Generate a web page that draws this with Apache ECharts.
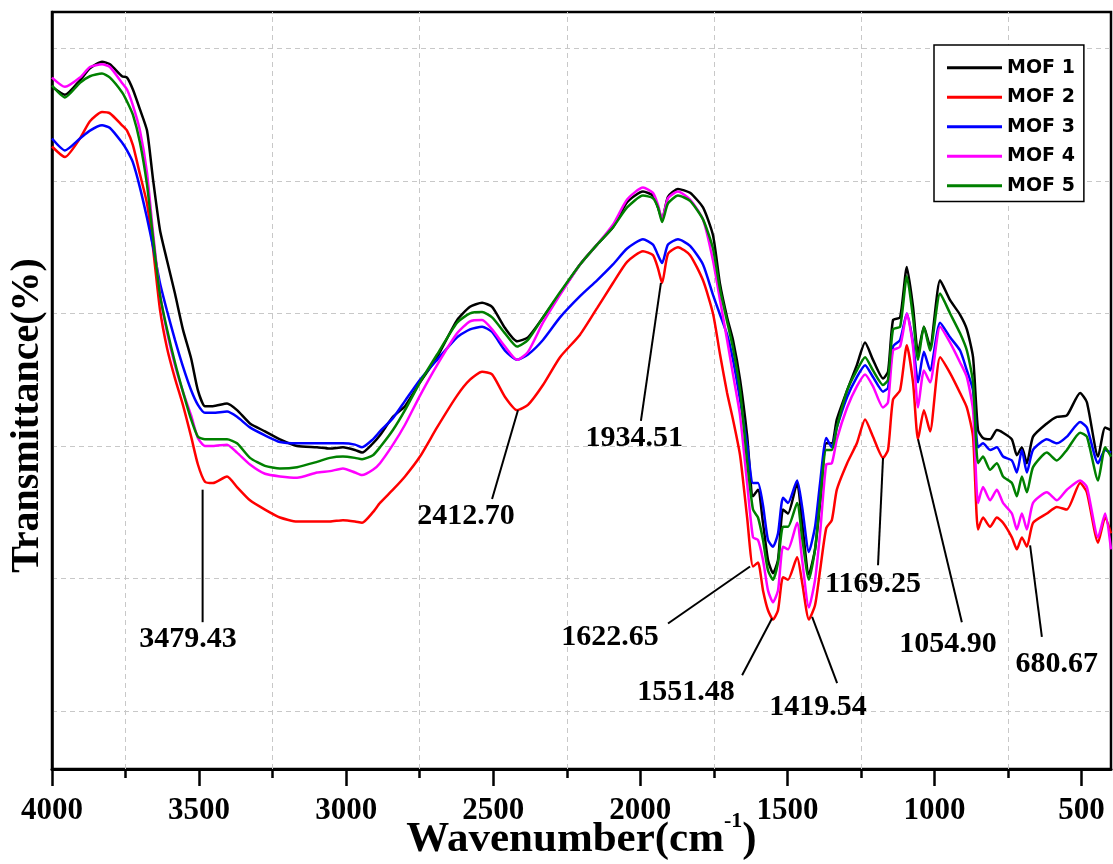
<!DOCTYPE html>
<html><head><meta charset="utf-8">
<script src="https://cdn.jsdelivr.net/npm/echarts@6/dist/echarts.min.js"></script>
<style>html,body{margin:0;padding:0;background:#fff}#c{width:1113px;height:864px}</style>
</head><body><div id="c"></div>
<script>
// Wavenumber (cm-1) sample positions shared by all spectra
const wavenumbers = [4000,3956,3905,3871,3830,3803,3762,3745,3725,3701,
 3677,3657,3633,3609,3582,3555,3527,3504,3480,3453,
 3405,3371,3327,3276,3225,3167,3099,3055,3011,2970,
 2946,2909,2885,2841,2800,2749,2691,2623,2579,2538,
 2504,2460,2419,2382,2331,2273,2205,2147,2093,2045,
 1991,1957,1940,1926,1906,1872,1831,1787,1753,1729,
 1705,1685,1661,1637,1617,1600,1583,1566,1549,1532,
 1515,1498,1467,1450,1427,1406,1389,1368,1349,1332,
 1297,1264,1236,1209,1175,1158,1141,1117,1094,1073,
 1056,1036,1015,981,947,913,890,869,852,835,
 811,788,767,737,720,703,686,665,618,584,
 550,505,482,444,420,400];

// Transmittance (arbitrary % units)
const mof1 = [57.1,56.5,57.6,58.5,59.0,58.8,57.9,57.8,56.9,55.4,
 53.8,50.2,46.3,44.0,41.5,38.8,36.6,34.2,33.0,33.0,
 33.2,32.7,31.7,31.1,30.5,30.0,29.9,29.8,29.9,29.7,
 29.5,30.2,30.8,32.2,33.0,34.8,36.7,39.5,40.5,40.8,
 40.5,38.9,37.9,38.2,39.7,41.5,43.7,45.2,46.5,48.4,
 49.2,48.9,48.0,47.1,48.8,49.4,49.1,48.0,45.9,42.2,
 39.7,38.0,35.0,30.8,26.2,26.7,24.2,21.4,20.4,21.4,
 25.2,24.9,27.2,24.2,20.3,22.2,25.7,30.2,30.2,32.0,
 34.2,36.1,37.8,36.5,35.1,35.6,39.5,39.7,43.5,40.5,
 37.0,39.0,37.5,42.5,41.0,39.9,38.8,36.7,31.2,30.6,
 30.5,31.2,31.0,30.5,29.3,29.9,28.7,30.7,31.7,32.2,
 32.3,34.0,33.3,29.2,31.4,31.2];
const mof2 = [52.6,51.8,53.2,54.5,55.2,55.1,54.2,53.8,52.7,50.5,
 48.3,45.0,40.3,37.4,35.1,33.1,30.7,28.6,27.3,27.2,
 27.7,26.9,25.9,25.2,24.6,24.3,24.3,24.3,24.4,24.3,
 24.2,25.0,25.7,26.7,27.7,29.2,31.4,33.8,35.0,35.6,
 35.4,33.7,32.7,33.1,34.6,36.7,38.4,40.4,42.3,43.9,
 44.7,44.4,43.4,42.3,44.5,45.0,44.4,42.5,40.0,36.9,
 34.0,32.0,29.3,24.6,20.9,21.2,19.1,17.6,16.9,17.6,
 20.1,19.9,21.6,19.7,16.9,18.0,20.6,23.8,24.4,26.7,
 28.7,30.2,32.0,30.7,29.1,29.7,33.5,34.2,37.6,34.8,
 30.5,32.7,31.1,36.7,35.5,34.0,32.9,30.7,23.7,24.6,
 23.9,24.6,24.2,23.1,22.2,23.1,22.4,24.2,24.9,25.4,
 25.2,27.2,26.5,22.7,24.6,23.4];
const mof3 = [53.2,52.3,53.2,53.8,54.2,54.0,52.9,52.3,51.4,49.5,
 47.2,45.1,42.3,40.2,38.0,36.0,34.2,33.1,32.5,32.5,
 32.6,32.2,31.4,30.8,30.3,30.2,30.2,30.2,30.2,30.1,
 29.9,30.5,31.1,32.1,33.4,35.0,36.5,38.2,38.8,39.0,
 38.6,37.2,36.5,36.9,38.0,39.7,41.3,42.5,43.7,44.9,
 45.6,45.2,44.4,43.8,45.2,45.6,45.1,43.7,41.4,39.9,
 38.4,36.5,33.5,30.1,27.2,27.2,25.5,22.9,22.4,23.4,
 26.1,25.7,27.4,25.4,22.0,23.9,27.2,30.6,29.9,31.4,
 33.7,35.2,36.1,35.2,34.1,34.4,37.5,38.0,40.0,37.8,
 34.8,37.1,35.7,39.3,38.2,37.2,35.7,34.2,29.9,30.2,
 29.7,29.9,29.2,28.9,28.0,29.7,28.0,29.7,30.5,30.2,
 30.7,31.8,31.4,28.7,29.7,29.5];
const mof4 = [57.8,57.1,57.8,58.6,58.8,58.6,57.4,56.9,55.7,53.8,
 50.6,46.2,41.5,38.6,36.1,34.1,32.3,30.6,30.0,30.0,
 30.1,29.5,28.6,27.9,27.7,27.6,28.0,28.1,28.3,28.0,
 27.8,28.2,28.7,30.1,31.6,33.8,36.1,38.5,39.4,39.5,
 38.8,37.5,36.5,37.1,39.3,41.4,43.7,45.2,46.7,48.6,
 49.5,49.1,48.2,47.1,48.7,49.2,48.6,47.1,44.0,41.0,
 38.0,35.4,32.3,27.2,23.1,22.9,21.4,19.1,18.2,19.1,
 22.4,22.2,24.2,21.4,17.8,19.9,23.4,28.6,28.7,30.5,
 32.9,34.5,35.4,34.5,32.9,33.3,37.2,37.5,40.0,37.5,
 32.9,35.7,34.8,39.0,37.8,36.3,35.2,32.7,25.7,26.9,
 25.9,26.7,25.7,24.9,23.7,24.9,23.7,25.7,26.5,25.9,
 26.7,27.4,26.9,23.1,24.9,22.2];
const mof5 = [57.2,56.3,57.4,57.9,58.1,57.8,56.7,56.0,55.0,52.9,
 49.7,45.8,41.4,38.8,36.3,34.1,32.0,30.7,30.5,30.5,
 30.5,30.2,29.1,28.5,28.3,28.4,28.8,29.1,29.2,29.1,
 29.0,29.3,29.9,31.2,32.7,34.8,36.9,39.3,40.0,40.1,
 39.7,38.5,37.5,38.0,39.7,41.6,43.7,45.2,46.5,48.0,
 48.9,48.7,48.0,46.9,48.3,48.9,48.5,47.1,44.9,41.8,
 39.4,37.4,34.2,28.9,25.2,24.6,22.9,20.6,19.9,21.2,
 23.9,23.9,25.7,23.1,19.9,22.2,25.9,29.7,29.7,31.4,
 34.2,35.7,36.7,35.7,34.6,35.0,38.8,39.0,42.8,39.7,
 36.5,39.0,37.2,41.5,40.0,38.5,37.2,34.8,28.7,29.2,
 28.2,28.7,27.7,27.2,26.2,27.7,26.5,28.4,29.5,28.9,
 29.7,31.0,30.7,27.4,29.9,29.2];

const seriesNames = ['MOF 1','MOF 2','MOF 3','MOF 4','MOF 5'];
const seriesValues = [mof1, mof2, mof3, mof4, mof5];
const seriesColors = ['#000000','#ff0000','#0000ff','#ff00ff','#008000'];

// Axis ticks
const majorTicks = [4000,3500,3000,2500,2000,1500,1000,500];
const minorTicks = [3750,3250,2750,2250,1750,1250,750];

// Peak annotations: label, point on curve, leader end, label centre (data units)
const annLabels = ['3479.43','2412.70','1934.51','1622.65','1551.48','1419.54','1169.25','1054.90','680.67'];
const annPoint  = [[3488,26.7],[2416,32.7],[1930,42.3],[1627,20.9],[1552,17.0],[1416,17.1],[1175,29.1],[1056,30.5],[675,22.5]];
const annEnd    = [[3488,16.7],[2504,26.0],[1998,31.9],[1906,16.6],[1654,12.7],[1331,12.1],[1192,21.0],[907,16.7],[635,15.6]];
const annText   = [[3538,15.4],[2593,24.7],[2021,30.6],[2103,15.6],[1845,11.4],[1396,10.25],[1209,19.55],[954,15.0],[584,13.5]];

const serif = "'Liberation Serif','Times New Roman',serif";
const chart = echarts.init(document.getElementById('c'));

const series = [{
  type:'line', data:[], silent:true, z:1,
  markLine:{silent:true, z:1, animation:false, symbol:['none','none'], label:{show:false},
    lineStyle:{color:'#c8c8c8', type:[5,4], width:1},
    data: minorTicks.map(v => ({xAxis:v}))}
}];
seriesValues.forEach((vals, i) => {
  series.push({
    name: seriesNames[i], type:'line', z:3,
    data: wavenumbers.map((w, j) => [w, vals[j]]),
    showSymbol:false, symbol:'none', smooth:0.2,
    lineStyle:{color:seriesColors[i], width:2.5},
    itemStyle:{color:seriesColors[i]}
  });
});

chart.setOption({
  animation:false,
  backgroundColor:'#ffffff',
  grid:{left:52, right:2, top:12, bottom:95, show:true, borderColor:'#000', borderWidth:2.5,
    containLabel:false, outerBoundsMode:'none'},
  legend:{
    data: seriesNames, orient:'vertical', left:934, top:45, icon:'rect',
    padding:[13,9,6,13], itemWidth:55, itemHeight:3, itemGap:10,
    borderColor:'#000', borderWidth:1.5, backgroundColor:'#fff',
    textStyle:{fontFamily:"'DejaVu Sans',Verdana,sans-serif", fontWeight:'bold', fontSize:19, lineHeight:19.5, color:'#000'}
  },
  xAxis:[{
    type:'value', inverse:true, min:400, max:4000, splitNumber:7,
    name:'Wavenumber(cm{sup|-1})', nameLocation:'middle', nameGap:41, nameMoveOverlap:false,
    nameTextStyle:{fontFamily:serif, fontWeight:'bold', fontSize:43, color:'#000', lineHeight:60,
      rich:{sup:{fontFamily:serif, fontWeight:'bold', fontSize:22, lineHeight:20, verticalAlign:'top', color:'#000'}}},
    axisLine:{show:true, onZero:false, lineStyle:{color:'#000', width:3}},
    axisTick:{show:true, inside:false, length:17, customValues:majorTicks, lineStyle:{color:'#000', width:2.5}},
    axisLabel:{show:true, margin:26, customValues:majorTicks, fontFamily:serif, fontWeight:'bold', fontSize:31, color:'#000',
      formatter: v => (v % 500 === 0 ? String(v) : '')},
    splitLine:{show:false}
  },{
    type:'value', inverse:true, min:400, max:4000, position:'bottom', gridIndex:0,
    axisLine:{show:false}, axisLabel:{show:false}, splitLine:{show:false},
    axisTick:{show:true, length:9, customValues:minorTicks, lineStyle:{color:'#000', width:2.5}}
  }],
  yAxis:{
    type:'value', min:5.62, max:62.75, splitNumber:5,
    name:'Transmittance(%)', nameLocation:'middle', nameGap:4,
    nameTextStyle:{fontFamily:serif, fontWeight:'bold', fontSize:40, color:'#000', padding:[0,50,0,0]},
    axisLine:{show:true, lineStyle:{color:'#000', width:2.5}},
    axisTick:{show:false}, axisLabel:{show:false},
    splitLine:{show:true, showMinLine:false, showMaxLine:false, lineStyle:{color:'#c8c8c8', type:[5,4], width:1}}
  },
  series: series
});

const g = [];
annLabels.forEach((t, i) => {
  const p0 = chart.convertToPixel({xAxisIndex:0, yAxisIndex:0}, annPoint[i]);
  const p1 = chart.convertToPixel({xAxisIndex:0, yAxisIndex:0}, annEnd[i]);
  const pt = chart.convertToPixel({xAxisIndex:0, yAxisIndex:0}, annText[i]);
  g.push({type:'line', z:10, silent:true, shape:{x1:p0[0], y1:p0[1], x2:p1[0], y2:p1[1]}, style:{stroke:'#000', lineWidth:2}});
  g.push({type:'text', z:10, silent:true, x:pt[0], y:pt[1],
    style:{text:t, fontFamily:serif, fontWeight:'bold', fontSize:30, fill:'#000', align:'center', verticalAlign:'middle'}});
});
chart.setOption({graphic:g});
</script>
</body></html>
